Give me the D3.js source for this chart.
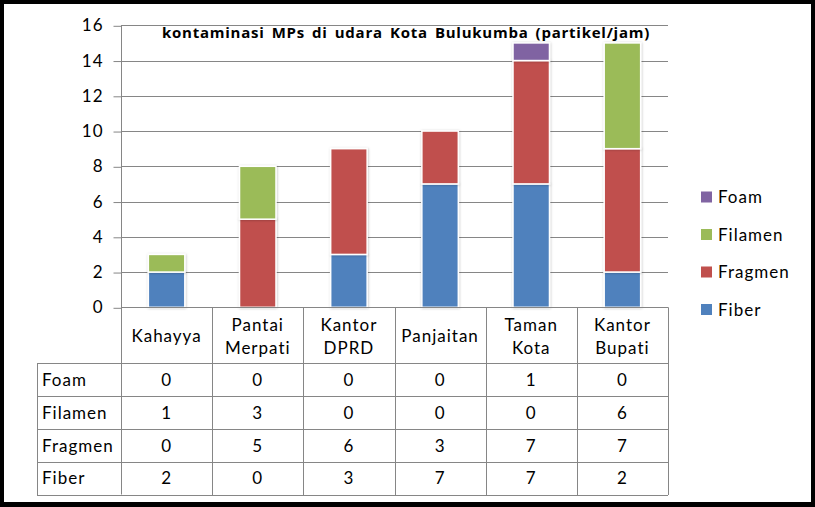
<!DOCTYPE html>
<html>
<head>
<meta charset="utf-8">
<script src="https://cdn.jsdelivr.net/npm/d3@7"></script>
<style>
  body { margin: 0; background: #fff; }
  svg { display: block; font-family: "Lato", "Open Sans", sans-serif; }
</style>
</head>
<body>
<svg id="chart"></svg>
<script>
// data
const categories = [["Kahayya"], ["Pantai", "Merpati"], ["Kantor", "DPRD"], ["Panjaitan"], ["Taman", "Kota"], ["Kantor", "Bupati"]];
const seriesNames = ["Fiber", "Fragmen", "Filamen", "Foam"];
const fiber   = [2, 0, 3, 7, 7, 2];
const fragmen = [0, 5, 6, 3, 7, 7];
const filamen = [1, 3, 0, 0, 0, 6];
const foam    = [0, 0, 0, 0, 1, 0];
const yTicks = [0, 2, 4, 6, 8, 10, 12, 14, 16];
const title = "kontaminasi MPs di udara Kota Bulukumba (partikel/jam)";

const colors = { Fiber: "#4F81BD", Fragmen: "#C0504D", Filamen: "#9BBB59", Foam: "#8064A2" };
const values = { Fiber: fiber, Fragmen: fragmen, Filamen: filamen, Foam: foam };

const width = 815, height = 507;
const fontSize = 17, spacing = 1;
const svg = d3.select("#chart").attr("width", width).attr("height", height);

// outer black frame
svg.append("rect").attr("x", 0).attr("y", 0).attr("width", width).attr("height", height).attr("fill", "#000");
svg.append("rect").attr("x", 4).attr("y", 4).attr("width", 807).attr("height", 498).attr("fill", "#fff");

const defs = svg.append("defs");
const f = defs.append("filter").attr("id", "shadow").attr("x", "-20%").attr("y", "-20%").attr("width", "140%").attr("height", "140%");
f.append("feDropShadow").attr("dx", 0.5).attr("dy", 0.5).attr("stdDeviation", 1).attr("flood-color", "#000").attr("flood-opacity", 0.25);

const plotLeft = 121, plotRight = 668, plotTop = 25.3, plotBottom = 307.3;
const x = d3.scaleBand().domain(d3.range(categories.length)).range([plotLeft, plotRight]).paddingInner(0).paddingOuter(0);
const y = d3.scaleLinear().domain([0, 16]).range([plotBottom, plotTop]);

const gridColor = "#868686";

// gridlines
svg.append("g").selectAll("line").data(yTicks.filter(d => d > 0)).join("line")
  .attr("x1", plotLeft).attr("x2", plotRight)
  .attr("y1", d => Math.round(y(d)) + 0.5).attr("y2", d => Math.round(y(d)) + 0.5)
  .attr("stroke", gridColor).attr("stroke-width", 1);

// y axis
const yAxis = d3.axisLeft(y).tickValues(yTicks).tickSize(8).tickPadding(10);
const gy = svg.append("g").attr("transform", `translate(${plotLeft + 0.5},0)`).call(yAxis);
gy.select(".domain").remove();
gy.selectAll(".tick line").attr("stroke", gridColor).attr("transform", "translate(0,0.5)");
gy.selectAll(".tick text").attr("font-family", "Lato, 'Open Sans', sans-serif").attr("font-size", fontSize)
  .attr("letter-spacing", spacing).attr("fill", "#000");
svg.append("line").attr("x1", plotLeft + 0.5).attr("x2", plotLeft + 0.5).attr("y1", plotTop).attr("y2", 494.5)
  .attr("stroke", gridColor);

// stacked bars
const rows = categories.map((c, i) => {
  const r = { i };
  seriesNames.forEach(s => r[s] = values[s][i]);
  return r;
});
const stack = d3.stack().keys(seriesNames)(rows);
const barW = x.bandwidth() * 0.4;

svg.append("g").selectAll("g").data(stack).join("g")
  .attr("fill", d => colors[d.key])
  .selectAll("rect").data(d => d.filter(p => p[1] - p[0] > 0)).join("rect")
  .attr("x", d => x(d.data.i) + (x.bandwidth() - barW) / 2)
  .attr("y", d => y(d[1]))
  .attr("width", barW)
  .attr("height", d => y(d[0]) - y(d[1]))
  .attr("stroke", "#fff").attr("stroke-width", 1.5)
  .attr("filter", "url(#shadow)");

// title
svg.append("text").attr("x", 406).attr("y", 38).attr("text-anchor", "middle")
  .attr("font-family", "'Open Sans', sans-serif")
  .attr("font-weight", "bold").attr("font-size", 15).attr("letter-spacing", 0.75).attr("word-spacing", 2.5)
  .attr("fill", "#000")
  .text(title);

// data table
const tableLeft = 37;
const rowTops = [363, 396, 429, 462, 494.5];
const tableRows = ["Foam", "Filamen", "Fragmen", "Fiber"];
const tg = svg.append("g").attr("font-size", fontSize).attr("letter-spacing", spacing).attr("fill", "#000");

// horizontal lines
tg.append("line").attr("x1", plotLeft).attr("x2", plotRight).attr("y1", Math.round(plotBottom) + 0.5).attr("y2", Math.round(plotBottom) + 0.5).attr("stroke", gridColor);
rowTops.forEach(r => {
  tg.append("line").attr("x1", tableLeft).attr("x2", plotRight).attr("y1", Math.round(r) + 0.5).attr("y2", Math.round(r) + 0.5).attr("stroke", gridColor);
});
// vertical lines
tg.append("line").attr("x1", tableLeft + 0.5).attr("x2", tableLeft + 0.5).attr("y1", rowTops[0]).attr("y2", 495).attr("stroke", gridColor);
d3.range(1, categories.length + 1).forEach(i => {
  const xx = Math.round(x(i - 1) + x.bandwidth()) + 0.5;
  tg.append("line").attr("x1", xx).attr("x2", xx).attr("y1", plotBottom).attr("y2", 495).attr("stroke", gridColor);
});

// category headers
categories.forEach((c, i) => {
  const cx = x(i) + x.bandwidth() / 2;
  const midY = (plotBottom + rowTops[0]) / 2;
  const t = tg.append("text").attr("text-anchor", "middle");
  c.forEach((line, k) => {
    t.append("tspan").attr("x", cx).attr("y", midY + 7 + (k - (c.length - 1) / 2) * 23).text(line);
  });
});

// series rows
tableRows.forEach((s, r) => {
  const cy = (rowTops[r] + rowTops[r + 1]) / 2 + 6;
  tg.append("text").attr("x", tableLeft + 5).attr("y", cy).text(s);
  values[s].forEach((v, i) => {
    tg.append("text").attr("x", x(i) + x.bandwidth() / 2).attr("y", cy)
      .attr("text-anchor", "middle").text(v);
  });
});

// legend
const legendY = [197, 234.5, 272, 309.5];
const lg = svg.append("g").attr("font-size", fontSize).attr("letter-spacing", spacing).attr("fill", "#000");
tableRows.forEach((s, k) => {
  lg.append("rect").attr("x", 701).attr("y", legendY[k] - 5.5).attr("width", 11).attr("height", 11).attr("fill", colors[s]);
  lg.append("text").attr("x", 718).attr("y", legendY[k] + 6).text(s);
});
</script>
</body>
</html>
